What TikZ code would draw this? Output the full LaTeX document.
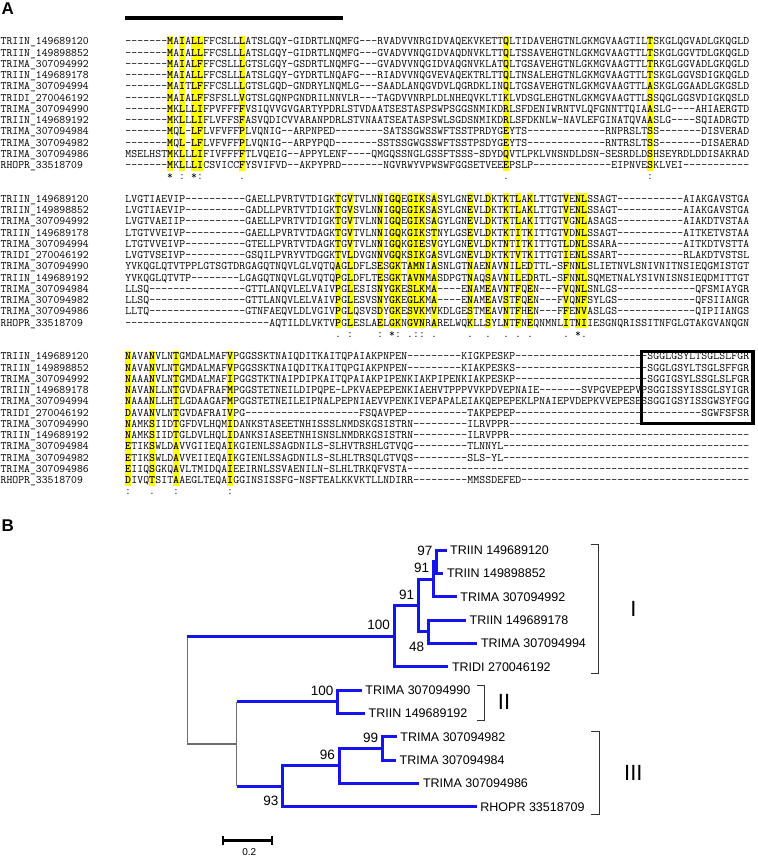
\documentclass[tikz,border=0pt]{standalone}
\usepackage{fontspec}
\newfontfamily\treefont{Liberation Sans}

\definecolor{hlyellow}{RGB}{255,255,0}
\definecolor{treeblue}{RGB}{20,20,235}
\definecolor{rootgray}{RGB}{110,110,110}

% highlighted columns of the three alignment blocks
\def\hlA{8,10,12,13,20,64,88}
\def\hlB{36,38,43,45,46,48,49,50,52,58,61,64,66,68,74,76,77}
\def\hlC{1,5,9,18}
\foreach \c in \hlA {\expandafter\gdef\csname hlA-\c\endcsname{}}
\foreach \c in \hlB {\expandafter\gdef\csname hlB-\c\endcsname{}}
\foreach \c in \hlC {\expandafter\gdef\csname hlC-\c\endcsname{}}

% one alignment row, one 6pt cell per residue
\newcount\seqcol
\def\dashes#1{\ifnum#1>0 -\expandafter\dashes\expandafter{\the\numexpr#1-1\relax}\fi}
\def\seqrow#1#2{\def\seqblk{#1}\seqcol=0 \edef\seqtmp{#2}\expandafter\seqloop\seqtmp\relax
  \ifnum\seqcol=104 \else\errmessage{row with \the\seqcol\space columns}\fi}
\def\seqloop#1{\ifx#1\relax\else\advance\seqcol by 1
  \hbox to 6pt{\hss\ifcsname hl\seqblk-\the\seqcol\endcsname\bfseries\fi#1\hss}%
  \expandafter\seqloop\fi}

\begin{document}
\begin{tikzpicture}[x=1pt,y=-1pt,
    seq/.style={font=\ttfamily\fontsize{11.4pt}{12pt}\selectfont,inner sep=0pt,anchor=west,text height=6.8pt,text depth=0pt},
    cons/.style={font=\ttfamily\fontsize{11.4pt}{12pt}\selectfont,inner sep=0pt,anchor=base},
    hl/.style={fill=hlyellow},
    panel/.style={font=\treefont\bfseries\fontsize{17pt}{20pt}\selectfont,inner sep=0pt,anchor=base west},
    br/.style={draw=treeblue,line width=3pt},
    rootline/.style={draw=rootgray,line width=1.3pt},
    leaf/.style={font=\treefont\fontsize{12.5pt}{15pt}\selectfont,anchor=west,inner xsep=3.5pt,inner ysep=0pt,text height=8.9pt,text depth=0pt},
    boot/.style={font=\treefont\fontsize{13.5pt}{16pt}\selectfont,inner sep=0pt},
    bootup/.style={boot,anchor=south east,xshift=-4pt,yshift=6pt},
    bootdown/.style={boot,anchor=north east,xshift=-4pt,yshift=-10pt},
    clade/.style={draw=black!80,line width=0.9pt},
    cladename/.style={font=\treefont\fontsize{22pt}{26pt}\selectfont,inner sep=0pt}]

  \useasboundingbox (0,0) rectangle (757,858);

  % ---------------- panel A
  \node[panel] (pA) at (1.5,15) {A};
  \draw[line width=4pt] (125,18.3) -- (343,18.3);

  \foreach \c in \hlA {\fill[hl] ({124.8+6*(\c-1)},35.9) rectangle ({125.2+6*\c},170.9);}
  \foreach \c in \hlB {\fill[hl] ({124.8+6*(\c-1)},193.4) rectangle ({125.2+6*\c},328.4);}
  \foreach \c in \hlC {\fill[hl] ({124.8+6*(\c-1)},350.9) rectangle ({125.2+6*\c},485.9);}

  \foreach \b/\y in {A/41.5,B/199,C/356.5}
    \foreach \nm [count=\r] in {TRIIN\_149689120,TRIIN\_149898852,TRIMA\_307094992,TRIIN\_149689178,
        TRIMA\_307094994,TRIDI\_270046192,TRIMA\_307094990,TRIIN\_149689192,TRIMA\_307094984,
        TRIMA\_307094982,TRIMA\_307094986,RHOPR\_33518709}
      \node[seq] (name\b\r) at (0.5,{\y+(\r-1)*11.25}) {\nm};

  % block 1
  \foreach \s [count=\r] in {
    \dashes{7}MAIALLFFCSLLLATSLGQY-GIDRTLNQMFG\dashes{3}RVADVVNRGIDVAQEKVKETTQLTIDAVEHGTNLGKMGVAAGTILTSKGLQGVADLGKQGLD,
    \dashes{7}MAIALLFFCSLLLATSLGQY-GIDRTLNQMFG\dashes{3}GVADVVNQGIDVAQDNVKLTTQLTSSAVEHGTNLGKMGVAAGTTLTSKGLGGVTDLGKQGLD,
    \dashes{7}MAIALFFFCSLLLGTSLGQY-GSDRTLNQMFG\dashes{3}GVADVVNQGIDVAQGNVKLATQLTGSAVEHGTNLGKMGVAAGTTLTRKGLGGVADLGKQGLD,
    \dashes{7}MAIALLFFCSLLLATSLGQY-GYDRTLNQAFG\dashes{3}RIADVVNQGVEVAQEKTRLTTQLTNSALEHGTNLGKMGVAAGTTLTSKGLGGVSDIGKQGLD,
    \dashes{7}MAITLFFFCSLLLGTSLGQD-GNDRYLNQMLG\dashes{3}SAADLANQGVDVLQGRDKLINQLTGSAVEHGTNLGKMGVAAGTTLASKGLGGAADLGKGSLD,
    \dashes{7}MAIALFFSFSLLVGTSLGQNPGNDRILNNVLR\dashes{3}TAGDVVNRPLDLNHEQVKLTIKLVDSGLEHGTNLGKMGVAAGTTLSSQGLGGSVDIGKQSLD,
    \dashes{7}MKLLLIFPVFFFFVSIQVVGVGARTYPDRLSTVDAATSESTASPSWPSGGSNMIKDRLSFDENIWRNTVLQFGNNTTQIAASLG\dashes{4}AHIAERGTD,
    \dashes{7}MKLLLIFLVFFSFASVQDICVVARANPDRLSTVNAATSEATASPSWLSGDSNMIKDRLSFDKNLW-NAVLEFGINATQVAASLG\dashes{4}SQIADRGTD,
    \dashes{7}MQL-LFLVFVFFPLVQNIG--ARPNPED\dashes{8}SATSSGWSSWFTSSTPRDYGEYTS\dashes{13}RNPRSLTSS\dashes{7}DISVERAD,
    \dashes{7}MQL-LFLVFVFFPLVQNIG--ARPYPQD\dashes{7}SSTSSGWGSSWFTSSTPSDYGEYTS\dashes{13}RNTRSLTSS\dashes{7}DISAERAD,
    MSELHSTMKLLLIFIVFFFFTLVQEIG--APPYLENF\dashes{4}QMGQSSNGLGSSFTSSS-SDYDQVTLPKLVNSNDLDSN-SESRDLDSHSEYRDLDDISAKRAD,
    \dashes{7}MKLLLICSVICCFYSVIFVD--AKPYPRD\dashes{7}NGVRWYVPWSWFGGSETVEEEPSLP\dashes{13}EIPNVESKLVEI\dashes{11}}
    \node[seq] (sA\r) at (125,{41.5+(\r-1)*11.25}) {\seqrow{A}{\s}};
  \foreach \c/\m in {8/*,10/:,12/*,13/:,20/.,64/.,88/:}
    \node[cons] (cA\c) at ({122+6*\c},179.8) {\m};

  % block 2
  \foreach \s [count=\r] in {
    LVGTIAEVIP\dashes{10}GAELLPVRTVTDIGKTGVTVLNNIGQEGIKSASYLGNEVLDKTKTLAKLTTGTVENLSSAGT\dashes{11}AIAKGAVSTGA,
    LVGTIAEVIP\dashes{10}GADLLPVRTVTDIGKTGVSVLNNIGQEGIKSASYLGNEVLDKTKTLAKLTTGTVENLSSAGT\dashes{11}AIAKGAVSTGA,
    LVGTVAEIIP\dashes{10}GAELLPVRTVTDIGKTGVTVLNNIGQEGIKSAGYLGNEVLDKTKTLAKITTGTVGNLASAGS\dashes{11}AIAKDTVSTAA,
    LTGTVVEIVP\dashes{10}GAELLPVRTVTDAGKTGVTVLNNIGQKGIKSTNYLGSEVLDKTKTITKITTGTVDNLSSAGT\dashes{11}AITKETVSTAA,
    LTGTVVEIVP\dashes{10}GTELLPVRTVTDAGKTGVTVLNNIGQKGIESVGYLGNEVLDKTNTITKITTGTLDNLSSARA\dashes{11}AITKDTVSTTA,
    LVGTVSEIVP\dashes{10}GSQILPVRYVTDGGKTVLDVGNNVGQKSIKGASVLGNEVLDKTKTVTKITTGTIENLSSART\dashes{11}RLAKDTVSTSL,
    YVKQGLQTVTPPLGTSGTDRGAGQTNQVLGLVQTQAGLDFLSESGKTAMNIASNLGTNAENAVNILEDTTL-SFNNLSLIETNVLSNIVNITNSIEQGMISTGT,
    YVKQGLQTVTP\dashes{8}LGAGQTNQVLGLVQTQPGLDFLTESGKTAVNMASDPGTNAQSAVNILEDRTL-SFNNLSQMETNALYSIVNISNSIEQDMITTGT,
    LLSQ\dashes{16}GTTLANQVLELVAIVPGLESISNYGKESLKMA\dashes{4}ENAMEAVNTFQEN\dashes{3}FVQNLSNLGS\dashes{13}QFSMIAYGR,
    LLSQ\dashes{16}GTTLANQVLELVAIVPGLESVSNYGKEGLKMA\dashes{4}ENAMEAVSTFQEN\dashes{3}FVQNFSYLGS\dashes{13}QFSIIANGR,
    LLTQ\dashes{16}GTNFAEQVLDLVGIVPGLQSVSDYGKESVKMVKDLGESTMEAVNTFHEN\dashes{3}FFENVASLGS\dashes{13}QIPIIANGS,
    \dashes{24}AQTILDLVKTVPGLESLAELGKNGVNRARELWQKLLSYLNTFNEQNMNLITNIIESGNQRISSITNFGLGTAKGVANQGN}
    \node[seq] (sB\r) at (125,{199+(\r-1)*11.25}) {\seqrow{B}{\s}};
  \foreach \c/\m in {36/.,38/:,43/:,45/*,46/:,48/.,49/:,50/:,52/.,58/.,61/.,64/.,66/.,68/.,74/.,76/*,77/.}
    \node[cons] (cB\c) at ({122+6*\c},337.3) {\m};

  % block 3
  \foreach \s [count=\r] in {
    NAVANVLNTGMDALMAFVPGGSSKTNAIQDITKAITQPAIAKPNPEN\dashes{9}KIGKPESKP\dashes{22}SGGLGSYLTSGLSLFGR,
    NAVANVLNTGMDALMAFVPGGSSKTNAIQDITKAITQPGIAKPNPEN\dashes{9}KIAKPESKS\dashes{22}SGGLGSYLTSGLSFFGR,
    NAAANVLNTGMDALMAFIPGGSTKTNAIPDIPKAITQPAIAKPIPENKIAKPIPENKIAKPESKP\dashes{22}SGGIGSYLSSGLSLFGR,
    NAVANLLNTGVDAFRAFMPGGSTETNEILDIPQPE-LPKVAEPEPENKIAEHVTPPPVVKPDVEPNAIE\dashes{7}SVPGVEPEPVPSGGISSYISSGLSYIGR,
    NAAANLLHTLGDAAGAFMPGGSTETNEILEIPNALPEPNIAEVVPENKIVEPAPALEIAKQEPEPEKLPNAIEPVDEPKVVEPESESSGGIGSYISSGWSYFGG,
    DAVANVLNTGVDAFRAIVPG\dashes{19}FSQAVPEP\dashes{10}TAKPEPEP\dashes{31}SGWFSFSR,
    NAMKSIIDTGFDVLHQMIDANKSTASEETNHISSSLNMDSKGSISTRN\dashes{9}ILRVPPR\dashes{40},
    NAMKSIIDTGLDVLHQLIDANKSIASEETNHISNSLNMDRKGSISTRN\dashes{9}ILRVPPR\dashes{40},
    ETIKSWLDAVVGIIEQAIKGIENLSSAGDNILS-SLHVTRSHLGTVQG\dashes{9}TLNNYL\dashes{41},
    ETIKSWLDAVVEIIEQAIKGIENLSSAGDNILS-SLHLTRSQLGTVQS\dashes{9}SLS-YL\dashes{41},
    EIIQSGKQAVLTMIDQAIEEIRNLSSVAENILN-SLHLTRKQFVSTA\dashes{57},
    DIVQTSITAAEGLTEQAIGGINSISSFG-NSFTEALKKVKTLLNDIRR\dashes{9}MMSSDEFED\dashes{38}}
    \node[seq] (sC\r) at (125,{356.5+(\r-1)*11.25}) {\seqrow{C}{\s}};
  \foreach \c/\m in {1/:,5/.,9/:,18/:}
    \node[cons] (cC\c) at ({122+6*\c},494.8) {\m};

  \draw[line width=3.6pt] (641.5,351.5) rectangle (753,423.5);

  % ---------------- panel B
  \node[panel] (pB) at (1.5,531) {B};

  \coordinate (root) at (187.3,690);
  \coordinate (nI)   at (394,636.1);
  \coordinate (nA)   at (418.3,605.45);
  \coordinate (nB)   at (433.3,579.2);
  \coordinate (nC)   at (436.5,561.7);
  \coordinate (nD)   at (428.3,631.7);
  \coordinate (nL)   at (236.7,744);
  \coordinate (nII)  at (337.7,701.7);
  \coordinate (nIII) at (282.7,786.3);
  \coordinate (nE)   at (339,765.9);
  \coordinate (nF)   at (382.3,748.4);

  \node[leaf] (t1)  at (446.5,550)   {TRIIN 149689120};
  \node[leaf] (t2)  at (443.3,573.3) {TRIIN 149898852};
  \node[leaf] (t3)  at (456.7,596.7) {TRIMA 307094992};
  \node[leaf] (t4)  at (466,620)     {TRIIN 149689178};
  \node[leaf] (t5)  at (477.3,643.4) {TRIMA 307094994};
  \node[leaf] (t6)  at (448.3,666.7) {TRIDI 270046192};
  \node[leaf] (t7)  at (361.7,690)   {TRIMA 307094990};
  \node[leaf] (t8)  at (365,713.4)   {TRIIN 149689192};
  \node[leaf] (t9)  at (396.7,736.7) {TRIMA 307094982};
  \node[leaf] (t10) at (396,760.1)   {TRIMA 307094984};
  \node[leaf] (t11) at (419.3,783.4) {TRIMA 307094986};
  \node[leaf] (t12) at (476.7,806.7) {RHOPR 33518709};

  \draw[br] (nC) |- (t1.west);
  \draw[br] (nC) |- (t2.west);
  \draw[br] (nB) |- (nC);
  \draw[br] (nB) |- (t3.west);
  \draw[br] (nD) |- (t4.west);
  \draw[br] (nD) |- (t5.west);
  \draw[br] (nA) |- (nB);
  \draw[br] (nA) |- (nD);
  \draw[br] (nI) |- (nA);
  \draw[br] (nI) |- (t6.west);
  \draw[rootline] (root |- nI) -- (root |- nL);
  \draw[br] (root |- nI) -- (nI);
  \draw[rootline] (root |- nL) -- (nL);
  \draw[rootline] (nL |- nII) -- (nL |- nIII);
  \draw[br] (nL |- nII) -- (nII);
  \draw[br] (nL |- nIII) -- (nIII);
  \draw[br] (nII) |- (t7.west);
  \draw[br] (nII) |- (t8.west);
  \draw[br] (nIII) |- (nE);
  \draw[br] (nIII) |- (t12.west);
  \draw[br] (nE) |- (nF);
  \draw[br] (nE) |- (t11.west);
  \draw[br] (nF) |- (t9.west);
  \draw[br] (nF) |- (t10.west);

  \node[bootup]   (bC)   at (nC)   {97};
  \node[bootup]   (bB)   at (nB)   {91};
  \node[bootup]   (bA)   at (nA)   {91};
  \node[bootup]   (bI)   at (nI)   {100};
  \node[bootdown] (bD)   at (nD)   {48};
  \node[bootup]   (bII)  at (nII)  {100};
  \node[bootup]   (bE)   at (nE)   {96};
  \node[bootup]   (bF)   at (nF)   {99};
  \node[bootdown] (bIII) at (nIII) {93};

  % clades
  \draw[clade] (590.5,544) -- (598.5,544) -- (598.5,673.5) -- (590.5,673.5);
  \draw[clade] (476.5,685) -- (484,685) -- (484,720) -- (476.5,720);
  \draw[clade] (591,731.5) -- (599.5,731.5) -- (599.5,814.5) -- (591,814.5);
  \node[cladename] (gI)   at (633.3,608.5) {I};
  \node[cladename] (gII)  at (504,702)     {II};
  \node[cladename] (gIII) at (633.3,773)   {III};

  % scale bar
  \draw[line width=2.6pt] (222.7,840.7) -- (272.3,840.7);
  \draw[line width=2pt] (222.7,836) -- (222.7,845.4) (272.3,836) -- (272.3,845.4);
  \node[font=\treefont\fontsize{10pt}{12pt}\selectfont,inner sep=0pt] (sc) at (249.3,852.3) {0.2};
\end{tikzpicture}
\end{document}
